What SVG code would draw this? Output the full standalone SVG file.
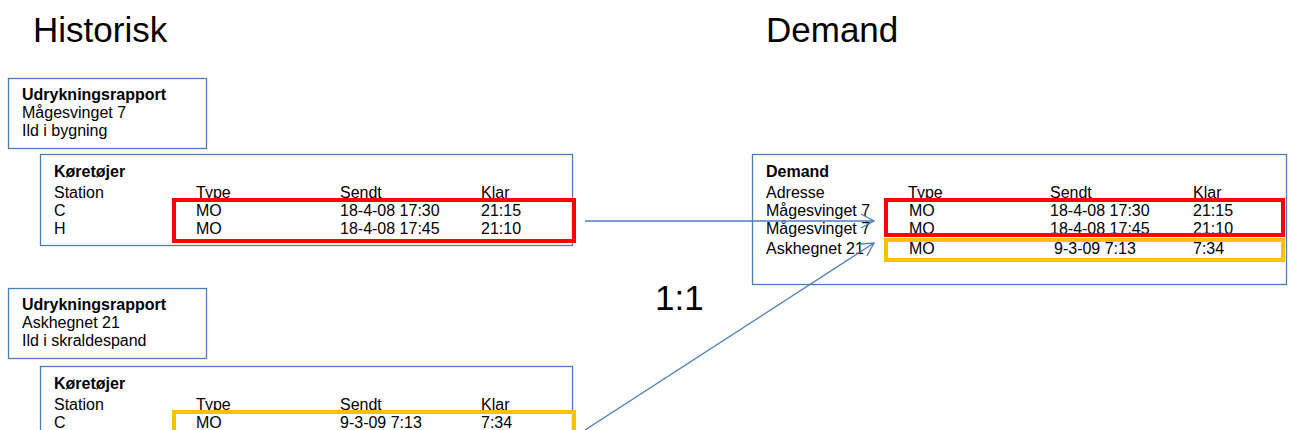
<svg xmlns="http://www.w3.org/2000/svg" width="1290" height="430" viewBox="0 0 1290 430">
<style>
text{font-family:"Liberation Sans",Arial,sans-serif;fill:#000}
.t{font-size:16px}
.b{font-size:16px;font-weight:bold}
.h{font-size:35px}
.box{fill:#fff;stroke:#4a7ebb;stroke-width:1.3}
.red{fill:none;stroke:#ff0000;stroke-width:4}
.org{fill:none;stroke:#ffc000;stroke-width:4}
.con{fill:none;stroke:#4a7ebb;stroke-width:1.3}
</style>
<defs>
<marker id="arr" markerWidth="16" markerHeight="16" refX="14" refY="8" orient="auto" markerUnits="userSpaceOnUse">
<path d="M1,1 L14,8 L1,15" fill="none" stroke="#4a7ebb" stroke-width="1.3"/>
</marker>
</defs>
<rect width="1290" height="430" fill="#fff"/>
<text class="h" x="33" y="42">Historisk</text>
<text class="h" x="766" y="42">Demand</text>
<text class="h" x="655" y="310">1:1</text>

<g id="rapport1">
<rect class="box" x="8.5" y="78.5" width="198" height="70"/>
<text class="b" x="22" y="100">Udrykningsrapport</text>
<text class="t" x="22" y="118">Mågesvinget 7</text>
<text class="t" x="22" y="136">Ild i bygning</text>
</g>

<g id="koeretoejer1">
<rect class="box" x="40.5" y="154.5" width="532" height="91"/>
<text class="b" x="54" y="177">Køretøjer</text>
<text class="t" x="54" y="198">Station</text>
<text class="t" x="196" y="198">Type</text>
<text class="t" x="340" y="198">Sendt</text>
<text class="t" x="481" y="198">Klar</text>
<text class="t" x="54" y="216">C</text>
<text class="t" x="196" y="216">MO</text>
<text class="t" x="340" y="216">18-4-08 17:30</text>
<text class="t" x="481" y="216">21:15</text>
<text class="t" x="54" y="234">H</text>
<text class="t" x="196" y="234">MO</text>
<text class="t" x="340" y="234">18-4-08 17:45</text>
<text class="t" x="481" y="234">21:10</text>
<rect class="red" x="174" y="200" width="400" height="41"/>
</g>

<g id="rapport2">
<rect class="box" x="8.5" y="288.5" width="198" height="70"/>
<text class="b" x="22" y="310">Udrykningsrapport</text>
<text class="t" x="22" y="328">Askhegnet 21</text>
<text class="t" x="22" y="346">Ild i skraldespand</text>
</g>

<g id="koeretoejer2">
<rect class="box" x="40.5" y="366.5" width="532" height="91"/>
<text class="b" x="54" y="389">Køretøjer</text>
<text class="t" x="54" y="410">Station</text>
<text class="t" x="196" y="410">Type</text>
<text class="t" x="340" y="410">Sendt</text>
<text class="t" x="481" y="410">Klar</text>
<text class="t" x="54" y="428">C</text>
<text class="t" x="196" y="428">MO</text>
<text class="t" x="340" y="428">9-3-09 7:13</text>
<text class="t" x="481" y="428">7:34</text>
<rect class="org" x="174" y="412" width="400" height="41"/>
</g>

<g id="demand">
<rect class="box" x="752.5" y="154.5" width="534" height="130"/>
<text class="b" x="766" y="177">Demand</text>
<text class="t" x="766" y="198">Adresse</text>
<text class="t" x="908" y="198">Type</text>
<text class="t" x="1050" y="198">Sendt</text>
<text class="t" x="1193" y="198">Klar</text>
<text class="t" x="766" y="216">Mågesvinget 7</text>
<text class="t" x="909" y="216">MO</text>
<text class="t" x="1050" y="216">18-4-08 17:30</text>
<text class="t" x="1193" y="216">21:15</text>
<text class="t" x="766" y="234">Mågesvinget 7</text>
<text class="t" x="909" y="234">MO</text>
<text class="t" x="1050" y="234">18-4-08 17:45</text>
<text class="t" x="1193" y="234">21:10</text>
<text class="t" x="766" y="254">Askhegnet 21</text>
<text class="t" x="909" y="254">MO</text>
<text class="t" x="1054" y="254">9-3-09 7:13</text>
<text class="t" x="1193" y="254">7:34</text>
<rect class="red" x="886" y="200" width="397" height="35"/>
<rect class="org" x="886" y="240" width="397" height="20"/>
</g>

<g id="connectors">
<line class="con" x1="585" y1="221" x2="874" y2="221" marker-end="url(#arr)"/>
<line class="con" x1="585" y1="430" x2="874" y2="243" marker-end="url(#arr)"/>
</g>
</svg>
